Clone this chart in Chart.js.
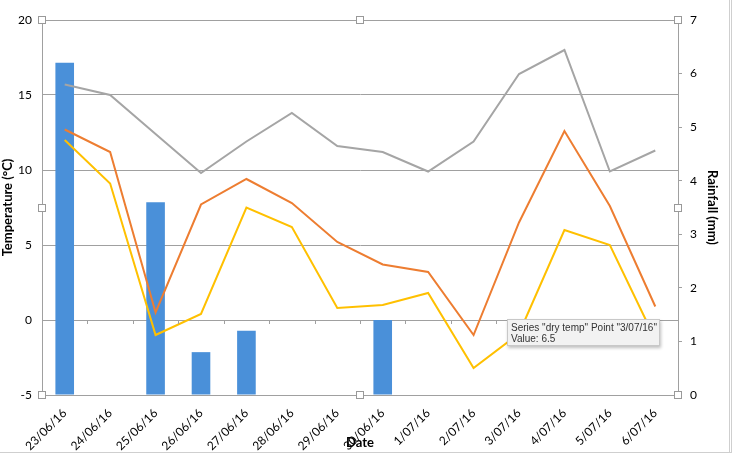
<!DOCTYPE html>
<html>
<head>
<meta charset="utf-8">
<script src="https://cdn.jsdelivr.net/npm/chart.js@4/dist/chart.umd.min.js"></script>
<style>
  html, body { margin: 0; padding: 0; background: #fff; }
  #wrap { position: relative; width: 736px; height: 454px; }
  #frame { position: absolute; left: 0; top: 0; width: 732px; height: 453px;
    border-right: 3px double #cfcfcf; border-bottom: 1px solid #cfcfcf; box-sizing: border-box; pointer-events: none; }
  #tip { position: absolute; left: 507px; top: 319px; width: 153px; height: 27px;
    background: #f2f2f2; border: 1px solid #c8c8c8; box-shadow: 1px 2px 3px rgba(0,0,0,0.25);
    font: 10px "Liberation Sans", Arial, sans-serif; color: #333; line-height: 11px;
    padding: 2px 0 0 3px; box-sizing: border-box; white-space: nowrap; }
</style>
</head>
<body>
<div id="wrap">
  <canvas id="myChart" width="736" height="454"></canvas>
  <div id="frame"></div>
  <div id="tip">Series "dry temp" Point "3/07/16"<br>Value: 6.5</div>
</div>
<script>
const dates = ["23/06/16", "24/06/16", "25/06/16", "26/06/16", "27/06/16", "28/06/16", "29/06/16",
  "30/06/16", "1/07/16", "2/07/16", "3/07/16", "4/07/16", "5/07/16", "6/07/16"];
const rainfall = [6.2, 0, 3.6, 0.8, 1.2, 0, 0, 1.4, 0, 0, 0, 0, 0, 0];
const maxTemp = [15.7, 15.0, 12.4, 9.8, 11.9, 13.8, 11.6, 11.2, 9.9, 11.9, 16.4, 18.0, 9.9, 11.3];
const dryTemp = [12.7, 11.2, 0.5, 7.7, 9.4, 7.8, 5.2, 3.7, 3.2, -1.0, 6.5, 12.6, 7.6, 0.9];
const wetTemp = [12.0, 9.1, -1.0, 0.4, 7.5, 6.2, 0.8, 1.0, 1.8, -3.2, -0.9, 6.0, 5.0, -1.3];

const tempTicks = { min: -5, max: 20, step: 5 };
const rainTicks = { min: 0, max: 7, step: 1 };

const tickFont = { family: "Lato, 'Open Sans', sans-serif", size: 12 };
const titleFont = { family: "Lato, 'Open Sans', sans-serif", size: 13, weight: "bold" };
const gridGray = "#a0a0a0";

// small tick marks on the zero line, between categories (Excel crosses the axis at 0)
const zeroTicks = {
  id: "zeroTicks",
  afterDatasetsDraw(chart) {
    const { ctx, scales: { x, y } } = chart;
    const y0 = y.getPixelForValue(0);
    ctx.save();
    ctx.strokeStyle = gridGray;
    ctx.lineWidth = 1;
    for (let i = 0; i <= dates.length; i++) {
      const px = Math.round(x.getPixelForValue(i - 0.5)) + 0.5;
      ctx.beginPath();
      ctx.moveTo(px, y0);
      ctx.lineTo(px, y0 + 4);
      ctx.stroke();
    }
    ctx.restore();
  }
};

// selection handles round the plot area
const handles = {
  id: "handles",
  afterDraw(chart) {
    const { ctx, chartArea: a } = chart;
    const xs = [a.left, (a.left + a.right) / 2, a.right];
    const ys = [a.top, (a.top + a.bottom) / 2, a.bottom];
    ctx.save();
    ctx.fillStyle = "#fff";
    ctx.strokeStyle = "#999";
    ctx.lineWidth = 1;
    xs.forEach((hx, i) => ys.forEach((hy, j) => {
      if (i === 1 && j === 1) return;
      ctx.fillRect(Math.round(hx) - 3, Math.round(hy) - 3, 7, 7);
      ctx.strokeRect(Math.round(hx) - 3.5, Math.round(hy) - 3.5, 7, 7);
    }));
    ctx.restore();
  }
};

const ctx = document.getElementById("myChart").getContext("2d");
new Chart(ctx, {
  data: {
    labels: dates,
    datasets: [
      { type: "line", label: "wet temp", data: wetTemp, yAxisID: "y", borderColor: "#ffc000",
        borderWidth: 2, pointRadius: 0, tension: 0, order: 1 },
      { type: "line", label: "dry temp", data: dryTemp, yAxisID: "y", borderColor: "#ed7d31",
        borderWidth: 2, pointRadius: 0, tension: 0, order: 2 },
      { type: "line", label: "max temp", data: maxTemp, yAxisID: "y", borderColor: "#a5a5a5",
        borderWidth: 2, pointRadius: 0, tension: 0, order: 3 },
      { type: "bar", label: "rainfall", data: rainfall, yAxisID: "y1", backgroundColor: "#4a90d9",
        categoryPercentage: 1, barPercentage: 0.41, order: 4 }
    ]
  },
  options: {
    responsive: false,
    animation: false,
    events: [],
    layout: { padding: { top: 20, right: 16, bottom: 3, left: 0 } },
    plugins: { legend: { display: false }, tooltip: { enabled: false } },
    scales: {
      x: {
        offset: true,
        grid: { display: false },
        border: { display: false },
        ticks: { color: "#000", font: tickFont, minRotation: 45, maxRotation: 45, autoSkip: false, padding: 3 },
        title: { display: true, text: "Date", color: "#000", font: titleFont, padding: 0 },
        afterFit(scale) { scale.height = 56; }
      },
      y: {
        position: "left",
        min: tempTicks.min, max: tempTicks.max,
        ticks: { stepSize: tempTicks.step, color: "#000", font: tickFont, padding: 10 },
        grid: { color: gridGray, drawTicks: false },
        border: { color: gridGray },
        title: { display: true, text: "Temperature (°C)", color: "#000", font: titleFont, padding: 0 },
        afterFit(scale) { scale.width = 42; }
      },
      y1: {
        position: "right",
        min: rainTicks.min, max: rainTicks.max,
        ticks: { stepSize: rainTicks.step, color: "#000", font: tickFont, padding: 8 },
        grid: { drawOnChartArea: false, drawTicks: true, tickLength: 4, color: gridGray },
        border: { color: gridGray },
        title: { display: true, text: "Rainfall (mm)", color: "#000", font: titleFont, padding: 0 },
        afterFit(scale) { scale.width = 42; }
      }
    }
  },
  plugins: [zeroTicks, handles]
});
</script>
</body>
</html>
